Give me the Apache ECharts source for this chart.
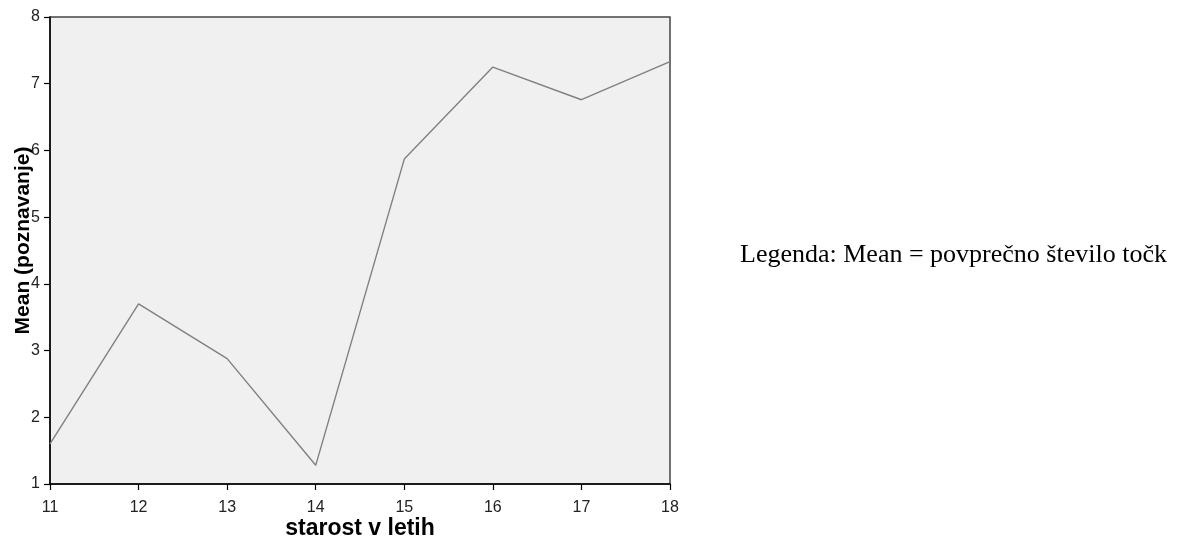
<!DOCTYPE html>
<html>
<head>
<meta charset="utf-8">
<script src="https://cdn.jsdelivr.net/npm/echarts@6/dist/echarts.min.js"></script>
<style>html,body{margin:0;padding:0;background:#fff}#c{width:1180px;height:543px}</style>
</head>
<body>
<div id="c"></div>
<script>
const ages = [11, 12, 13, 14, 15, 16, 17, 18];
const means = [1.6, 3.7, 2.88, 1.28, 5.87, 7.25, 6.76, 7.33];
const yTicks = [1, 2, 3, 4, 5, 6, 7, 8];
const xTitle = 'starost v letih';
const yTitle = 'Mean (poznavanje)';
const legendText = 'Legenda: Mean = povprečno število točk';

const chart = echarts.init(document.getElementById('c'));
chart.setOption({
  animation: false,
  grid: {left: 50, top: 17, right: 510, bottom: 59, outerBoundsMode: 'none', containLabel: false,
         show: true, backgroundColor: '#f0f0f0', borderColor: '#444', borderWidth: 1.5},
  xAxis: {
    type: 'value', min: 11, max: 18, interval: 1,
    name: xTitle, nameLocation: 'middle', nameGap: 33, nameMoveOverlap: false,
    nameTextStyle: {fontFamily: 'Liberation Sans', fontWeight: 'bold', fontSize: 23, color: '#000'},
    axisLine: {show: true, onZero: false, lineStyle: {color: '#000', width: 1.5}},
    axisTick: {show: true, length: 6, lineStyle: {color: '#000', width: 1.2}},
    axisLabel: {fontFamily: 'Liberation Sans', fontSize: 16, color: '#222', margin: 16, formatter: v => ages.includes(v) ? String(v) : ''},
    splitLine: {show: false}
  },
  yAxis: {
    type: 'value', min: 1, max: 8, interval: 1,
    name: yTitle, nameLocation: 'middle', nameGap: 16, nameRotate: 90, nameMoveOverlap: false,
    nameTextStyle: {fontFamily: 'Liberation Sans', fontWeight: 'bold', fontSize: 21, color: '#000', padding: [0, 0, 0, 20]},
    axisLine: {show: true, lineStyle: {color: '#000', width: 1.5}},
    axisTick: {show: true, length: 6, lineStyle: {color: '#000', width: 1.2}},
    axisLabel: {fontFamily: 'Liberation Sans', fontSize: 16, color: '#222', margin: 10, formatter: v => yTicks.includes(v) ? String(v) : ''},
    splitLine: {show: false}
  },
  series: [{
    type: 'line', data: ages.map((a, i) => [a, means[i]]),
    showSymbol: false, symbol: 'none',
    lineStyle: {color: '#808080', width: 1.4}
  }],
  graphic: [{
    type: 'text', left: 740, top: 242,
    style: {text: legendText, fontFamily: 'Liberation Serif', fontSize: 26, fill: '#000'}
  }]
});
</script>
</body>
</html>
